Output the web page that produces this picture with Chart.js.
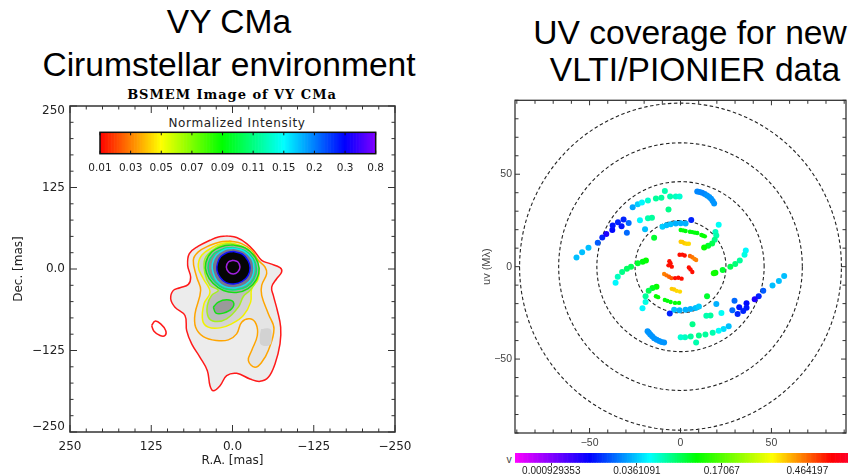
<!DOCTYPE html>
<html>
<head>
<meta charset="utf-8">
<script src="https://cdn.jsdelivr.net/npm/chart.js@4"></script>
<style>
	html, body { margin: 0; padding: 0; background: #fff; overflow: hidden; }
	body { width: 850px; height: 475px; position: relative; font-family: "Liberation Sans", sans-serif; }
	canvas { position: absolute; }
	.txt { position: absolute; white-space: pre; text-align: center; color: #000; }
	.big { font-size: 33.6px; line-height: 38px; }
</style>
</head>
<body>
<div class="txt big" style="left:0;width:458px;top:3px">VY CMa</div>
<div class="txt big" style="left:0;width:458px;top:46px">Cirumstellar environment</div>
<div class="txt big" style="left:510px;width:360px;top:14px">UV coverage for new</div>
<div class="txt big" style="left:515px;width:360px;top:51px">VLTI/PIONIER data</div>
<div class="txt" style="left:82px;width:300px;top:87px;font:bold 13px 'DejaVu Serif';letter-spacing:0.96px">BSMEM Image of VY CMa</div>
<div class="txt" style="left:87px;width:300px;top:116px;font:12px 'DejaVu Sans';letter-spacing:0.65px;color:#222">Normalized Intensity</div>
<div class="txt" style="left:504px;width:10px;top:453px;font:10.5px 'Liberation Sans';color:#444">v</div>
<canvas id="imageChart" width="420" height="385" style="left:0;top:90px"></canvas>
<canvas id="intensityBar" width="320" height="55" style="left:80px;top:125px"></canvas>
<canvas id="uvChart" width="380" height="360" style="left:470px;top:90px"></canvas>
<canvas id="visBar" width="380" height="30" style="left:470px;top:445px"></canvas>
<script>
// image axes (mas)
const imageTickValues = [250, 125, 0, -125, -250];
const imageTickLabels = ["250", "125", "0.0", "\u2212125", "\u2212250"];
// contours as [R.A., Dec.] in mas
const redContour = [[9,50.8],[-6.4,48.2],[-21.8,39],[-34.6,26.2],[-44.9,13.3],[-57.7,8.2],[-73.1,2.1],[-75.6,-4.6],[-67.9,-14.9],[-60.3,-27.7],[-62.8,-40.5],[-69,-63.6],[-74.1,-89.2],[-73.1,-114.9],[-65.4,-145.6],[-55.1,-166.2],[-42.3,-172.3],[-26.9,-168.7],[-6.4,-160],[9,-163.6],[19.2,-179],[29.5,-186.7],[34.6,-179],[38.7,-155.9],[50,-135.4],[62.8,-114.9],[70.5,-94.4],[73.1,-71.3],[88.5,-58.5],[95.1,-45.6],[91,-32.8],[80.8,-28.7],[67.9,-23.6],[64.4,-12.3],[69,5.6],[66.4,23.6],[52.6,34.9],[34.6,44.1],[21.8,49.2],[9,50.8]];
const redIsland = [[124.4,-86.7],[119.2,-80],[110.5,-84.1],[102.8,-94.4],[103.8,-102],[111.5,-102],[120.8,-95.4],[124.4,-86.7]];
const orangeContour = [[3.8,43.1],[-14.1,39],[-29.5,28.7],[-39.7,13.3],[-50,3.1],[-52.6,-7.2],[-44.9,-25.1],[-44.9,-40.5],[-55.1,-68.7],[-63.8,-91.8],[-55.1,-125.1],[-44.9,-143.1],[-34.6,-150.8],[-24.4,-140.5],[-29.5,-125.1],[-38.2,-102],[-36.2,-84.1],[-26.9,-76.4],[-14.1,-81.5],[-6.4,-99.5],[6.4,-108.7],[24.4,-109.7],[44.9,-103.6],[56.7,-89.2],[57.7,-68.7],[49,-32.8],[55.1,-12.3],[60.3,13.3],[52.6,26.2],[34.6,36.4],[19.2,41.5],[3.8,43.1]];
const greyPatch = [[-44,-92],[-58,-92],[-60,-104],[-58,-116],[-44,-116],[-42,-104],[-44,-92]];
const yellowContour = [[3.8,40.5],[-14.1,34.9],[-29.5,23.6],[-39.7,3.1],[-39.7,-14.9],[-29.5,-30.3],[-27.9,-50.8],[-16.7,-71.3],[1.3,-84.1],[19.2,-90.3],[37.2,-89.2],[45.9,-79],[43.8,-53.3],[34.6,-35.4],[44.9,-14.9],[52.6,3.1],[47.4,21],[29.5,33.8],[16.7,39],[3.8,40.5]];
const limeContour = [[3.8,39],[-16.7,33.8],[-32.1,21],[-39.7,0.5],[-37.2,-17.4],[-26.9,-32.8],[-16.7,-42.1],[-9,-58.5],[9,-76.4],[26.9,-80.5],[37.2,-73.8],[38.7,-55.9],[32.1,-40.5],[21.8,-32.8],[34.6,-25.1],[42.3,-7.2],[42.3,15.9],[26.9,31.3],[14.1,37.4],[3.8,39]];
const greenBlob = [[29.5,-58.5],[21.8,-50.8],[9,-47.2],[-1.3,-50.8],[1.3,-61],[14.1,-67.7],[25.4,-67.7],[29.5,-58.5]];
const greenRing = [[0,37],[-20,32],[-35,18],[-41,1],[-37,-16],[-24,-30],[-6,-36],[14,-33],[30,-22],[40,-6],[41,10],[32,26],[15,35],[0,37]];
const springRing = [[0,33],[-19,28],[-32,16],[-37,0],[-33,-15],[-22,-27],[-5,-32],[13,-30],[27,-20],[36,-6],[37,9],[29,23],[14,31],[0,33]];
const cyanRing = [[-1,32],[-18,27],[-30,15],[-33,1],[-30,-13],[-20,-24],[-4,-29],[12,-27],[24,-18],[30,-5],[31,8],[25,21],[12,30],[-1,32]];
const blueRing = [[-1,27],[-15,23],[-24,13],[-27,2],[-24,-10],[-15,-19],[-2,-23],[10,-21],[19,-13],[24,-2],[23,9],[18,19],[9,25],[-1,27]];
const violetRing = [[-1,13.5],[-8,11],[-11.5,3],[-8,-4.5],[-1,-7.5],[6,-4.5],[9.5,3],[6,11],[-1,13.5]];

const intensityLabels = ["0.01", "0.03", "0.05", "0.07", "0.09", "0.11", "0.15", "0.2", "0.3", "0.8"];
const intensityColors = [[0,[255,0,0]],[2,[255,255,0]],[4,[0,255,0]],[6,[0,255,255]],[8,[0,0,255]],[9,[128,0,255]]];

// uv axes (M lambda)
const uvTickValues = [-50, 0, 50];
const uvCircleRadii = [25, 46, 67, 88.5];
// uv tracks as [u, v, position on the colour bar from 0 to 100]
const arcTopRight = [[9.2,40.7,32],[10.5,40.4,32],[11.9,40,32],[13.3,39.3,32],[14.6,38.5,33],[15.8,37.7,33],[16.8,36.7,33],[17.7,35.5,33],[18.5,34.2,33]];
const arcTopOuter = [[-26.3,32.2,34],[-23.5,33.8,37],[-21.2,34.7,40],[-17.9,35.8,43],[-13.5,36.9,46],[-10.5,37.3,46],[-5.7,38,45],[-2.6,38,44],[-0.5,38,43]];
const topStray = [[-8.6,40.9,45],[-6.6,30.9,47]];
const clusterLeft = [[-57.2,4.9,36],[-54.1,7.8,36],[-50.6,10.2,36],[-45.5,12.9,29],[-43,15.8,25],[-40.8,17.6,20],[-37.5,19.8,23],[-37.3,22.2,24],[-34.4,24,25],[-32.4,21.8,24],[-31.3,25.5,25],[-28.5,23.6,30],[-29.5,18.4,30]];
const rowUpper = [[-22.3,25.1,40],[-17.9,26.2,45],[-15.7,26.4,46],[-19.5,20.2,36],[-14.5,15.6,52]];
const arcInnerTop = [[-9.9,21.6,37],[-7.7,22.4,36],[-5.4,22.9,36],[-2.6,23.3,35],[0.1,23.5,35],[2.8,23.3,35],[5.9,25.3,25]];
const arcInnerRight = [[21,22.7,41],[19.2,18.7,44],[19.7,16.9,45],[18.8,14.5,47],[17.4,12.5,50],[15.2,11.3,52],[13,10.4,55]];
const trackRight = [[35.9,8.7,40],[35.2,6.4,42],[32.6,3.3,46],[30.1,1.5,48],[27.4,0,50],[23.2,-1.8,52],[19.2,-3.3,55],[18.3,-3.6,56]];
const trackLeft = [[-19,3.3,55],[-20.8,2.6,54],[-23.5,1.8,52],[-27.2,0,50],[-29.5,-1.1,49],[-32.1,-2.9,47],[-34.5,-5.5,44],[-35.7,-8.7,40]];
const arcInnerLeft = [[-13.2,-10.9,55],[-15.4,-11.6,53],[-17.5,-13.1,50],[-19.2,-16,46],[-19.2,-19.1,42],[-20.9,-22.5,40]];
const arcInnerBottom = [[-3.5,-23.3,36],[-0.5,-23.6,35],[2.8,-23.3,35],[5.5,-22.9,35],[8.3,-22.4,36],[10.1,-21.6,37],[-5.9,-25.3,25]];
const rowLower = [[19.7,-20.2,35],[22.5,-25.1,41],[16.5,-26.4,46],[14.2,-26.6,45],[14.6,-16,52],[6.6,-31.1,47]];
const arcBottomOuter = [[26.5,-32.2,36],[23.7,-33.8,38],[21,-34.7,41],[17.7,-35.8,45],[13.7,-36.7,46],[10.1,-37.3,47],[5.6,-37.8,46],[8.6,-41.1,45],[2.5,-38.2,44],[0.1,-38.2,43]];
const arcBottomLeft = [[-18.1,-34.9,33],[-17.4,-35.8,33],[-16.6,-36.7,33],[-15.6,-37.7,33],[-14.5,-38.7,33],[-13.1,-39.5,33],[-11.7,-40.2,33],[-10.4,-40.7,33],[-9,-41.1,33]];
const clusterRight = [[57,-5.1,36],[54.1,-7.8,36],[50.6,-10.2,36],[45.5,-13.1,29],[43,-16,25],[40.8,-17.6,20],[36.3,-19.8,23],[36.3,-22.2,24],[34.5,-24,25],[32.3,-22,24],[31.4,-25.6,25],[28.5,-23.6,30],[29.7,-18.4,30]];
// short baselines in the middle, smaller marks
const coreUpper = [[0.1,19.8,54],[1.5,19.6,54],[2.8,19.3,54],[5.2,18.9,54],[6.5,18.7,54],[7.9,18.4,54],[9.2,18.2,54],[11.5,17.1,55],[12.5,16.7,55],[13.4,16.4,55],[0.1,13.5,81],[1,13.3,81],[2.1,12.7,81],[3.4,12.4,80],[4.6,12.4,80],[-0.5,6.4,94],[1,6.5,94],[2.3,6,94],[5.2,5.8,88],[6.5,5.1,87],[7.7,4.2,86],[8.6,3.6,86]];
const coreLower = [[4.6,-0.5,94],[5.5,-1.5,94],[6.5,-2.9,94],[-6.6,0.7,94],[-5.5,1.8,94],[-4.8,0,94],[-6.1,2.9,94],[-9,-4,86],[-7.7,-4.7,87],[-6.3,-5.5,88],[-5,-6.2,89],[-3,-6.2,94],[-1.2,-6,94],[0.6,-6.5,94],[-4.8,-12,81],[-3.5,-12.4,81],[-2.1,-13.1,80],[-0.3,-13.5,80],[-13.5,-16,55],[-12.3,-16.5,55],[-8.6,-18,54],[-7.2,-18.5,54],[-5.4,-19.1,54],[-3,-19.6,54],[-0.8,-19.6,54]];

const visTickPositions = [10.9, 36.6, 62.1, 87.8];
const visTickLabels = ["0.000929353", "0.0361091", "0.17067", "0.464197"];
const visColors = [[0,[255,0,255]],[22.5,[0,0,255]],[40.5,[0,255,255]],[54.6,[0,255,0]],[77.4,[255,255,0]],[95,[255,0,0]],[100,[255,0,40]]];

function ramp(stops, t) {
	for (let i = 1; i < stops.length; i++) {
		if (t <= stops[i][0]) {
			const a = stops[i - 1], b = stops[i];
			const f = (t - a[0]) / (b[0] - a[0]);
			const c = a[1].map((v, k) => Math.round(v + (b[1][k] - v) * f));
			return `rgb(${c[0]},${c[1]},${c[2]})`;
		}
	}
	return `rgb(${stops[stops.length - 1][1].join(",")})`;
}

// frame with ticks pointing into the plot
function insideTicks(cfg) {
	return {
		id: "insideTicks",
		afterDatasetsDraw(chart) {
			const { ctx, chartArea: a, scales: { x, y } } = chart;
			ctx.save();
			ctx.strokeStyle = cfg.color;
			ctx.lineWidth = cfg.frameWidth;
			ctx.strokeRect(a.left, a.top, a.right - a.left, a.bottom - a.top);
			ctx.lineWidth = 1;
			ctx.beginPath();
			const tick = (v, scale, horizontal) => {
				const len = v % cfg.major == 0 ? cfg.majorLen : cfg.minorLen;
				const p = scale.getPixelForValue(v);
				if (horizontal) {
					ctx.moveTo(p, a.bottom);
					ctx.lineTo(p, a.bottom - len);
					ctx.moveTo(p, a.top);
					ctx.lineTo(p, a.top + len);
				} else {
					ctx.moveTo(a.left, p);
					ctx.lineTo(a.left + len, p);
					ctx.moveTo(a.right, p);
					ctx.lineTo(a.right - len, p);
				}
			};
			for (let v = cfg.xFrom; v <= cfg.xTo; v += cfg.xStep) tick(v, x, true);
			if (cfg.yStep) for (let v = cfg.yFrom; v <= cfg.yTo; v += cfg.yStep) tick(v, y, false);
			ctx.stroke();
			ctx.restore();
		},
	};
}

const toXY = (pts) => pts.map((p) => ({ x: p[0], y: p[1] }));

function contour(pts, color, grey) {
	return {
		data: toXY(pts),
		showLine: true,
		tension: 0.4,
		borderColor: color,
		borderWidth: color == "transparent" ? 0 : 1.5,
		backgroundColor: grey || "transparent",
		fill: grey ? "shape" : false,
		pointRadius: 0,
	};
}

// listed back to front
const imageLayers = [
	contour(redContour, "#ff1a1a", "#ececec"),
	contour(redIsland, "#ff1a1a"),
	contour(orangeContour, "#ffa500", "#e4e4e4"),
	contour(greyPatch, "transparent", "#d2d2d2"),
	contour(yellowContour, "#f2f200", "#d4d4d4"),
	contour(limeContour, "#a6f01e", "#bdbdbd"),
	contour(greenBlob, "#14e014", "#9a9a9a"),
	contour(greenRing, "#14e014", "#a8a8a8"),
	contour(springRing, "#00e878", "#8c8c8c"),
	contour(cyanRing, "#12e6f0", "#77778a"),
	contour(blueRing, "#1010ff", "#050505"),
	contour(violetRing, "#a020e0"),
];
imageLayers.forEach((d, i) => (d.order = imageLayers.length - i));

const imageFont = { family: "DejaVu Sans", size: 12 };
new Chart(document.getElementById("imageChart"), {
	type: "scatter",
	data: { datasets: imageLayers },
	plugins: [insideTicks({ color: "#333", frameWidth: 1.5, major: 125, majorLen: 7, minorLen: 3.5, xFrom: -250, xTo: 250, xStep: 25, yFrom: -250, yTo: 250, yStep: 25 })],
	options: {
		responsive: false,
		animation: false,
		events: [],
		layout: { padding: { left: 0, right: 25, top: 16, bottom: 0 } },
		plugins: { legend: { display: false }, tooltip: { enabled: false } },
		scales: {
			x: {
				reverse: true,
				min: -250,
				max: 250,
				afterFit: (s) => (s.height = 43),
				grid: { display: false, drawTicks: false },
				border: { display: false },
				ticks: {
					stepSize: 125,
					padding: 8,
					maxRotation: 0,
					color: "#222",
					font: imageFont,
					callback: (v) => imageTickLabels[imageTickValues.indexOf(v)],
				},
				title: { display: true, text: "R.A. [mas]", color: "#222", font: imageFont, padding: { bottom: 7 } },
			},
			y: {
				min: -250,
				max: 250,
				afterFit: (s) => (s.width = 70),
				grid: { display: false, drawTicks: false },
				border: { display: false },
				// the end labels sit just inside the corners
				afterBuildTicks: (s) => (s.ticks = imageTickValues.map((v) => ({ value: Math.abs(v) == 250 ? v * 0.97 : v }))),
				ticks: {
					padding: 5,
					color: "#222",
					font: imageFont,
					callback: (v) => imageTickLabels[imageTickValues.findIndex((t) => Math.abs(t - v) < 10)],
				},
				title: { display: true, text: "Dec. [mas]", color: "#222", font: imageFont, padding: { top: 12 } },
			},
		},
	},
});

// Normalized Intensity bar laid over the top of the image
const intensitySteps = [];
for (let i = 0; i <= 180; i++) intensitySteps.push(i / 20);
new Chart(document.getElementById("intensityBar"), {
	type: "bar",
	data: {
		datasets: [
			{
				data: intensitySteps.map((x) => ({ x: x, y: 1 })),
				backgroundColor: intensitySteps.map((x) => ramp(intensityColors, x)),
				barPercentage: 1,
				categoryPercentage: 1,
			},
		],
	},
	plugins: [insideTicks({ color: "#111", frameWidth: 1.5, major: 1, majorLen: 3, minorLen: 3, xFrom: 0, xTo: 9, xStep: 1 })],
	options: {
		responsive: false,
		animation: false,
		events: [],
		layout: { padding: { left: 20, right: 24.3, top: 7.3, bottom: 0 } },
		plugins: { legend: { display: false }, tooltip: { enabled: false } },
		scales: {
			x: {
				type: "linear",
				offset: false,
				min: 0,
				max: 9,
				afterFit: (s) => (s.height = 26.3),
				grid: { display: false, drawTicks: false, offset: false },
				border: { display: false },
				ticks: {
					stepSize: 1,
					padding: 8,
					maxRotation: 0,
					autoSkip: false,
					color: "#222",
					font: { family: "DejaVu Sans", size: 10.5 },
					callback: (v) => intensityLabels[v],
				},
			},
			y: { display: false, min: 0, max: 1 },
		},
	},
});

// dashed uv distance circles, from the radii above
function circleDataset(r) {
	const pts = [];
	for (let a = 0; a <= 360; a += 3) {
		pts.push({ x: r * Math.cos((a * Math.PI) / 180), y: r * Math.sin((a * Math.PI) / 180) });
	}
	return {
		data: pts,
		showLine: true,
		borderColor: "#222",
		borderWidth: 1.1,
		borderDash: [3.5, 2.5],
		pointRadius: 0,
		order: 5,
	};
}

function trackDataset(points, radius) {
	return {
		data: points.map((p) => ({ x: p[0], y: p[1] })),
		showLine: false,
		pointRadius: radius,
		pointBorderWidth: 0,
		pointBackgroundColor: points.map((p) => ramp(visColors, p[2])),
		order: 1,
	};
}

const uvTracks = [].concat(arcTopRight, arcTopOuter, topStray, clusterLeft, rowUpper, arcInnerTop, arcInnerRight, trackRight, trackLeft, arcInnerLeft, arcInnerBottom, rowLower, arcBottomOuter, arcBottomLeft, clusterRight);
const uvCore = coreUpper.concat(coreLower);
const uvFont = { family: "Liberation Sans", size: 10.5 };

new Chart(document.getElementById("uvChart"), {
	type: "scatter",
	data: {
		datasets: [trackDataset(uvTracks, 3), trackDataset(uvCore, 2.2)].concat(uvCircleRadii.map(circleDataset)),
	},
	plugins: [insideTicks({ color: "#333", frameWidth: 1.3, major: 50, majorLen: 5, minorLen: 3.5, xFrom: -90, xTo: 90, xStep: 10, yFrom: -90, yTo: 90, yStep: 10 })],
	options: {
		responsive: false,
		animation: false,
		events: [],
		layout: { padding: { left: 0, right: 1.5, top: 10.3, bottom: 0 } },
		plugins: { legend: { display: false }, tooltip: { enabled: false } },
		scales: {
			x: {
				min: -91,
				max: 91,
				afterFit: (s) => (s.height = 17),
				grid: { display: false, drawTicks: false },
				border: { display: false },
				afterBuildTicks: (s) => (s.ticks = uvTickValues.map((v) => ({ value: v }))),
				ticks: {
					padding: 4,
					maxRotation: 0,
					color: "#444",
					font: uvFont,
					callback: (v) => (v < 0 ? "\u2212" + -v : "" + v),
				},
			},
			y: {
				min: -90,
				max: 90,
				afterFit: (s) => (s.width = 45),
				grid: { display: false, drawTicks: false },
				border: { display: false },
				afterBuildTicks: (s) => (s.ticks = uvTickValues.map((v) => ({ value: v }))),
				ticks: {
					padding: 3,
					color: "#444",
					font: uvFont,
					callback: (v) => (v < 0 ? "\u2212" + -v : "" + v),
				},
				title: { display: true, text: "uv (M\u03bb)", color: "#444", font: { family: "Liberation Sans", size: 11 }, padding: { top: 10 } },
			},
		},
	},
});

const visSteps = [];
for (let i = 0; i <= 200; i++) visSteps.push(i / 2);
new Chart(document.getElementById("visBar"), {
	type: "bar",
	data: {
		datasets: [
			{
				data: visSteps.map((x) => ({ x: x, y: 1 })),
				backgroundColor: visSteps.map((x) => ramp(visColors, x)),
				barPercentage: 1,
				categoryPercentage: 1,
			},
		],
	},
	options: {
		responsive: false,
		animation: false,
		events: [],
		layout: { padding: { left: 45, right: 2, top: 8, bottom: 0 } },
		plugins: { legend: { display: false }, tooltip: { enabled: false } },
		scales: {
			x: {
				type: "linear",
				offset: false,
				min: 0,
				max: 100,
				afterFit: (s) => (s.height = 12.3),
				grid: { drawOnChartArea: false, tickLength: 3, tickColor: "#333", offset: false },
				border: { display: false },
				afterBuildTicks: (s) => (s.ticks = visTickPositions.map((v) => ({ value: v }))),
				ticks: {
					padding: 0,
					maxRotation: 0,
					autoSkip: false,
					color: "#222",
					font: { family: "Liberation Sans", size: 10 },
					callback: (v) => visTickLabels[visTickPositions.indexOf(v)],
				},
			},
			y: { display: false, min: 0, max: 1 },
		},
	},
});
</script>
</body>
</html>
